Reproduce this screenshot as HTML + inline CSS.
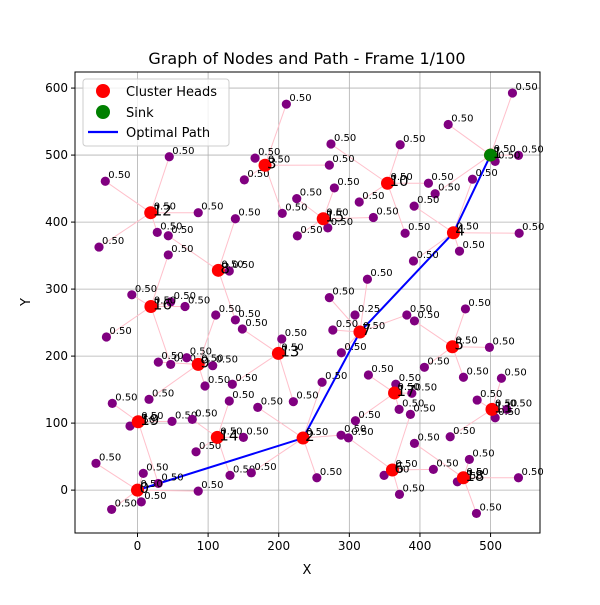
<!DOCTYPE html>
<html><head><meta charset="utf-8"><style>
body{margin:0;background:#fff;font-family:"Liberation Sans","DejaVu Sans",sans-serif;}
svg text{font-family:"DejaVu Sans","Liberation Sans",sans-serif;}
</style></head><body>
<svg id="chart" width="600" height="600" viewBox="0 0 600 600"></svg>
<script>
const headX=[0,500,234.5,180.6,447.4,446,361,315,114.5,86,354,502,18.7,199.5,113,263,19,364,461.5,1];
const headY=[0,500,77.7,484.8,384.1,214,30,236,328,187.6,458,120.5,414,204,78.7,405,274,145,18.4,102];
const nodeX=[45,-45.6,-54.5,86,28, 43.6,138.6,130,138.6, 43.6,-8,47,67.3,-44,47, 210.8,166.5,151.3,205,271.7,
 110.8,69.7,106.5,95.6,16.3,29.5, 204.3,134.3,220.7,148.5, -35.7,-10.6,48.9,29.5, 77.6,130,150,82.9,131,
 -58.8,8.2,5.4,-36.6,86, 170.3,161.2,254,261.4,288.3, 308,276.6,288.7,271.7,381.4,325.6,
 464.4,392.2,498.4,406.3,461.6, 327,365.8,388.5,370.5,308.6, 386.5,349.2,419,371,298.7,
 515.4,481,523,506.5,442.8, 470,392.2,453,539.5,480, 531,440,539.5,506.5,421.5,
 274,372,314,412,379, 278.8,334,269.5,225.5,226.4, 391.8,540.5,456,390.8,474.4];
const nodeY=[497.5,461,362.7,414,384.7, 379.6,405,327,254, 351,291.5,281,274,228.5,187.6, 576,495.5,463,413,485,
 261.4,197.6,185.7,155.4,135.5,191, 225.6,158,132,240.5, 129.5,95.6,102.6,10, 105.6,133,78.7,57.2,22,
 40,25,-17.5,-28.8,-1.5, 123.5,25.8,18.4,161,82, 261.4,239,205,287.3,261.4,314.7,
 270.4,252.5,213,183.3,168.4, 171.8,158,144.5,120.5,103.5, 113,22,31,-6.4,78,
 166.9,134.4,120.5,108,79.6, 45.8,69.8,12.4,18.4,-34.8, 592.6,545.7,499.6,490.6,442.3,
 516.5,515.4,430,458,383.4, 451,406.8,391.4,435,379.4, 423.8,383.4,356.6,342,464];
const nodeHead=[12,12,12,12,12, 8,8,8,8, 16,16,16,16,16,16, 3,3,3,3,3,
 9,9,9,9,9,9, 13,13,13,13, 19,19,19,19, 14,14,14,14,14,
 0,0,0,0,0, 2,2,2,2,2, 7,7,7,7,7,7,
 5,5,5,5,5, 17,17,17,17,17, 6,6,6,6,6,
 11,11,11,11,11, 18,18,18,18,18, 1,1,1,1,1,
 10,10,10,10,10, 15,15,15,15,15, 4,4,4,4,4];
const nodeVal=nodeX.map((v,i)=>i===49?"0.25":"0.50");
const pathOrder=[0,2,7,4,1];
const sinkX=[500], sinkY=[500];
const xTicks=[0,100,200,300,400,500];
const yTicks=[0,100,200,300,400,500,600];

const L=75,R=540,T=72,B=533,xmin=-88.5,xmax=570,ymin=-64,ymax=624;
const sx=v=>L+(v-xmin)/(xmax-xmin)*(R-L);
const sy=v=>B-(v-ymin)/(ymax-ymin)*(B-T);
const svg=document.getElementById('chart');
const NS='http://www.w3.org/2000/svg';
function mk(tag,attrs,parent){const e=document.createElementNS(NS,tag);for(const k in attrs)e.setAttribute(k,attrs[k]);(parent||svg).appendChild(e);return e;}

let t=mk('text',{x:307,y:64,'text-anchor':'middle','font-size':16});t.textContent='Graph of Nodes and Path - Frame 1/100';


xTicks.forEach(v=>{const g=mk('line',{x1:sx(v),x2:sx(v),y1:T,y2:B,stroke:'#b0b0b0','stroke-width':0.8});


mk('line',{x1:sx(v),x2:sx(v),y1:B,y2:B+4,stroke:'#000'});
const tx=mk('text',{x:sx(v),y:B+17,'text-anchor':'middle','font-size':12});tx.textContent=v;

});
yTicks.forEach(v=>{const g=mk('line',{x1:L,x2:R,y1:sy(v),y2:sy(v),stroke:'#b0b0b0','stroke-width':0.8});


mk('line',{x1:L-4,x2:L,y1:sy(v),y2:sy(v),stroke:'#000'});
const tx=mk('text',{x:L-7,y:sy(v)+4,'text-anchor':'end','font-size':12});tx.textContent=v;

});
nodeX.forEach((x,i)=>{const h=nodeHead[i];const l=mk('line',{x1:sx(x),y1:sy(nodeY[i]),x2:sx(headX[h]),y2:sy(headY[h]),stroke:'pink','stroke-width':1});

});
const pts=pathOrder.map(i=>sx(headX[i])+','+sy(headY[i])).join(' ');
const pl=mk('polyline',{points:pts,fill:'none',stroke:'blue','stroke-width':2});


nodeX.forEach((x,i)=>{const c=mk('circle',{cx:sx(x),cy:sy(nodeY[i]),r:4.6,fill:'purple'});


const tx=mk('text',{x:sx(x)+3,y:sy(nodeY[i])-3,'font-size':10});tx.textContent=nodeVal[i];

});
headX.forEach((x,i)=>{const c=mk('circle',{cx:sx(x),cy:sy(headY[i]),r:6.5,fill:'red'});

});
sinkX.forEach((x,i)=>{const c=mk('circle',{cx:sx(x),cy:sy(sinkY[i]),r:6.5,fill:'green'});

});
headX.forEach((x,i)=>{
const tv=mk('text',{x:sx(x)+3,y:sy(headY[i])-3,'font-size':10});tv.textContent='0.50';


const tx=mk('text',{x:sx(x)+2,y:sy(headY[i])+3,'font-size':15});tx.textContent=i;

});
mk('rect',{x:L,y:T,width:R-L,height:B-T,fill:'none',stroke:'#000','stroke-width':1});
let xl=mk('text',{x:307,y:574,'text-anchor':'middle','font-size':13});xl.textContent='X';


let yl=mk('text',{x:30,y:302,'text-anchor':'middle','font-size':13,transform:'rotate(-90 30 302)'});yl.textContent='Y';


const lg=mk('g',{});


mk('rect',{x:83,y:79,width:146,height:67,rx:3,fill:'#fff','fill-opacity':0.8,stroke:'#ccc'},lg);
mk('circle',{cx:103,cy:91,r:7,fill:'red'},lg);
mk('circle',{cx:103,cy:112,r:7,fill:'green'},lg);
mk('line',{x1:88,x2:118,y1:132,y2:132,stroke:'blue','stroke-width':2.2},lg);
[['Cluster Heads',96],['Sink',117],['Optimal Path',137]].forEach(([s,y])=>{const e=mk('text',{x:126,y:y,'font-size':13},lg);e.textContent=s;

});
</script>
</body></html>
